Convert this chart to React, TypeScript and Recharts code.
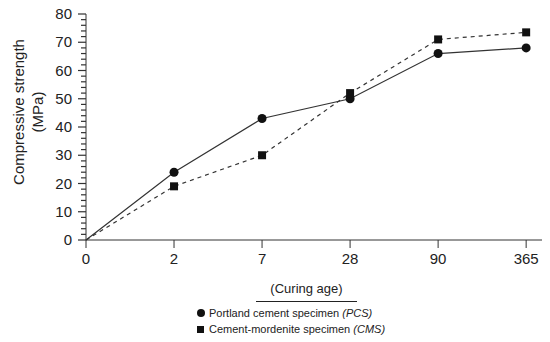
import React from 'react';
import { LineChart, Line, XAxis, YAxis, Label } from 'recharts';

const ages = ['0', '2', '7', '28', '90', '365'];
const pcs = [0, 24, 43, 50, 66, 68];
const cms = [0, 19, 30, 52, 71, 73.5];
const yTicks = [0, 2, 4, 6, 8, 10, 12, 14, 16, 18, 20, 22, 24, 26, 28, 30, 32, 34, 36, 38, 40, 42, 44, 46, 48, 50, 52, 54, 56, 58, 60, 62, 64, 66, 68, 70, 72, 74, 76, 78, 80];

const data = ages.map((age, i) => ({ idx: i, age, pcs: pcs[i], cms: cms[i] }));

const font = '"Liberation Sans", Arial, sans-serif';
const ink = '#333';

// minor tick every 2, longer tick + label every 10
const YTick = (props: any) => {
  const { x, y, payload } = props;
  const v = Number(payload.value);
  const major = v % 10 === 0;
  const px = Number(x);
  const py = Number(y);
  const len = major ? 8 : 5;
  return (
    <g>
      <rect x={px - len} y={py - 0.6} width={len} height={1.2} fill={ink} />
      {major && (
        <text x={px - 14} y={py} dy={5} textAnchor="end" fontSize={15} fill="#222" fontFamily={font}>
          {v}
        </text>
      )}
    </g>
  );
};

const YTitle = (props: any) => {
  const { viewBox } = props;
  const cy = viewBox.y + viewBox.height / 2 - 15;
  return (
    <g fontFamily={font} fontSize={15} fill="#222" textAnchor="middle">
      <text transform={`translate(24, ${cy}) rotate(-90)`}>Compressive strength</text>
      <text transform={`translate(43, ${cy}) rotate(-90)`}>(MPa)</text>
    </g>
  );
};

const Square = (props: any) => {
  const { cx, cy, payload } = props;
  if (payload && payload.idx === 0) return null;
  return <rect x={cx - 4} y={cy - 4} width={8} height={8} fill="#111" />;
};

const Dot = (props: any) => {
  const { cx, cy, payload } = props;
  if (payload && payload.idx === 0) return null;
  return <circle cx={cx} cy={cy} r={4.5} fill="#111" />;
};

export default function App() {
  return (
    <div style={{ position: 'absolute', left: 0, top: 0, width: 550, height: 342, background: '#fff', fontFamily: font }}>
      <LineChart width={550} height={342} data={data} margin={{ top: 14, right: 8, left: 0, bottom: 72 }}>
        <XAxis
          dataKey="idx"
          type="number"
          domain={[0, 5.18]}
          ticks={[0, 1, 2, 3, 4, 5]}
          tickFormatter={(v: number) => ages[v]}
          stroke={ink}
          tickSize={8}
          tickMargin={5}
          tick={{ fontSize: 15, fill: '#222', fontFamily: font }}
          height={30}
          interval={0}
        />
        <YAxis
          type="number"
          domain={[0, 80]}
          ticks={yTicks}
          interval={0}
          width={86}
          stroke={ink}
          tickLine={false}
          tickSize={0}
          tickMargin={0}
          tick={<YTick />}
        >
          <Label content={<YTitle />} />
        </YAxis>
        <Line
          dataKey="pcs"
          stroke={ink}
          strokeWidth={1.2}
          dot={<Dot />}
          isAnimationActive={false}
          type="linear"
        />
        <Line
          dataKey="cms"
          stroke={ink}
          strokeWidth={1.2}
          strokeDasharray="4 4"
          dot={<Square />}
          isAnimationActive={false}
          type="linear"
        />
      </LineChart>
      <div style={{ position: 'absolute', left: 256, top: 281, width: 101, textAlign: 'center', fontSize: 13, lineHeight: '15px', color: '#222', borderBottom: '1.5px solid #222', paddingBottom: 5 }}>
        (Curing age)
      </div>
      <div style={{ position: 'absolute', left: 197, top: 305, fontSize: 11, color: '#222', lineHeight: '16px' }}>
        <div style={{ display: 'flex', alignItems: 'center' }}>
          <span style={{ display: 'inline-block', width: 8, height: 8, borderRadius: 4, background: '#111', marginRight: 4 }} />
          Portland cement specimen&nbsp;<i>(PCS)</i>
        </div>
        <div style={{ display: 'flex', alignItems: 'center' }}>
          <span style={{ display: 'inline-block', width: 7, height: 7, background: '#111', marginRight: 5 }} />
          Cement-mordenite specimen&nbsp;<i>(CMS)</i>
        </div>
      </div>
    </div>
  );
}
